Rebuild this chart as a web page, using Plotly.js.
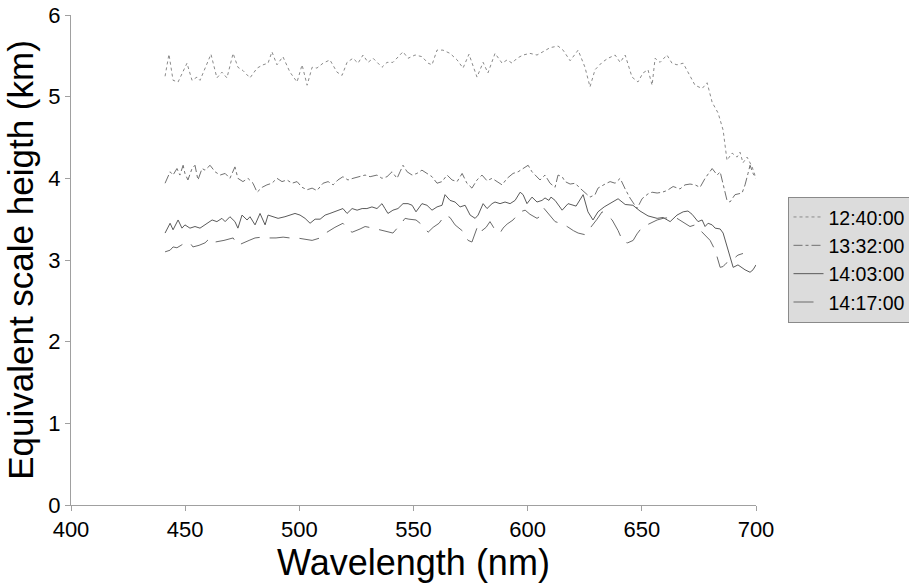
<!DOCTYPE html>
<html>
<head>
<meta charset="utf-8">
<script src="https://cdn.plot.ly/plotly-3.0.1.min.js"></script>
<style>html,body{margin:0;padding:0;background:#fff;}#chart{width:909px;height:586px;}</style>
</head>
<body>
<div id="chart"></div>
<script>
// Series names (legend labels)
const seriesNames = ["12:40:00", "13:32:00", "14:03:00", "14:17:00"];

// 12:40:00
const wl1240 = [441.2,442.9,444.7,446.9,450.8,453.0,455.2,456.5,461.3,463.9,466.1,468.3,471.0,473.1,475.3,478.4,481.5,484.1,486.3,488.0,490.2,492.8,495.9,499.0,501.2,503.4,505.6,507.7,510.4,513.4,516.5,518.7,520.9,523.5,525.7,527.9,530.1,532.3,536.2,538.4,541.0,542.8,545.4,547.6,550.7,553.7,556.4,558.1,560.3,562.9,566.0,569.1,571.7,574.3,577.8,580.5,582.6,585.7,588.8,591.0,593.2,595.3,598.0,601.0,604.1,606.7,609.8,613.3,615.5,618.6,622.1,625.1,627.3,629.5,632.6,635.2,638.3,640.5,642.7,645.7,648.3,650.5,652.7,654.5,655.8,658.0,661.0,663.2,665.4,668.1,670.2,673.3,676.4,678.6,680.8,683.4,685.6,687.3,689.5,691.7,693.0,694.3,696.1,698.3,700.0];
const h1240 = [5.25,5.52,5.20,5.18,5.41,5.20,5.24,5.20,5.52,5.23,5.30,5.23,5.53,5.36,5.32,5.23,5.35,5.39,5.41,5.55,5.39,5.49,5.30,5.18,5.39,5.14,5.36,5.35,5.41,5.45,5.30,5.26,5.42,5.47,5.41,5.51,5.42,5.47,5.36,5.42,5.42,5.47,5.55,5.47,5.51,5.49,5.41,5.39,5.57,5.57,5.53,5.45,5.35,5.52,5.24,5.42,5.29,5.53,5.41,5.45,5.41,5.47,5.51,5.53,5.51,5.55,5.60,5.62,5.57,5.44,5.57,5.36,5.12,5.33,5.42,5.47,5.51,5.42,5.51,5.24,5.18,5.29,5.33,5.14,5.47,5.42,5.51,5.41,5.39,5.41,5.30,5.14,5.10,5.17,4.93,4.80,4.59,4.22,4.31,4.26,4.32,4.19,4.26,4.14,4.00];

// 13:32:00
const wl1332 = [441.2,443.4,444.7,446.4,447.7,449.1,449.9,451.2,453.0,454.3,455.6,457.4,458.7,460.9,463.1,465.3,467.5,469.6,471.8,473.1,475.3,477.5,479.7,481.5,483.7,485.8,488.0,490.2,492.4,494.6,496.8,499.0,501.2,503.4,505.6,507.7,510.4,512.6,514.8,516.9,519.1,521.3,523.5,526.6,528.8,531.0,534.0,536.2,538.4,540.6,542.8,544.1,545.4,547.2,549.4,551.5,553.7,555.9,558.1,560.3,562.5,564.7,566.9,569.1,571.3,573.4,575.6,577.8,580.0,582.2,584.4,586.6,588.8,591.0,593.6,595.8,598.0,600.2,601.9,603.2,605.4,607.6,609.8,612.0,613.3,615.1,616.4,618.6,620.8,622.9,625.1,627.3,629.5,630.8,633.9,636.1,638.3,640.5,642.7,644.8,647.9,650.1,652.7,654.5,656.7,658.9,661.0,663.7,666.7,668.9,671.1,673.3,675.5,677.7,680.8,683.0,684.3,685.6,687.3,688.6,690.8,693.9,695.2,696.5,697.4,698.7,700.0];
const h1332 = [3.94,4.08,4.04,4.12,4.04,4.16,4.06,3.98,4.12,4.16,3.98,4.12,4.10,4.16,4.08,4.04,4.06,4.00,4.14,4.00,3.96,4.00,3.94,3.83,3.89,3.92,3.94,4.00,3.96,3.98,3.94,3.96,3.89,3.86,3.88,3.85,3.94,3.96,3.92,3.98,4.02,3.98,4.00,4.02,4.04,4.02,4.04,4.00,4.02,4.08,4.00,4.08,4.16,4.08,4.04,4.06,4.10,4.06,4.02,3.94,3.96,4.04,3.98,3.96,4.06,3.94,3.88,3.98,4.04,3.97,4.00,3.96,3.92,4.00,4.06,4.08,4.12,4.16,4.08,4.04,3.98,4.04,3.94,3.89,4.04,4.02,3.96,3.93,3.94,3.88,3.82,3.77,3.80,3.88,3.93,3.96,3.94,4.00,3.87,3.76,3.63,3.75,3.81,3.83,3.82,3.83,3.85,3.90,3.87,3.92,3.93,3.92,3.89,4.00,4.12,4.04,4.08,3.94,3.73,3.71,3.80,3.82,3.92,4.06,4.16,4.06,4.00];

// 14:03:00
const wl1403 = [441.2,443.4,444.7,446.9,448.6,449.9,452.1,454.3,456.5,458.7,461.8,463.9,466.1,467.5,469.6,471.8,473.1,474.9,477.1,478.4,480.6,482.8,485.0,486.3,488.5,490.7,493.7,495.9,498.1,500.3,502.5,504.7,506.9,509.1,511.3,513.4,515.6,517.8,519.1,520.9,523.1,525.3,527.5,529.6,531.8,534.0,536.2,537.5,538.8,541.0,543.2,545.4,547.6,549.4,551.1,553.7,555.9,558.1,560.3,562.5,563.8,566.0,568.2,570.4,572.6,574.8,577.0,578.3,580.5,582.2,584.4,585.7,587.9,590.1,592.3,594.5,596.7,598.0,599.7,601.9,604.1,606.3,607.6,609.3,610.2,612.0,615.1,617.7,621.2,624.3,626.4,628.6,630.8,633.5,636.5,639.6,642.7,646.1,649.2,652.7,656.7,659.3,662.4,665.4,668.1,670.2,672.0,673.3,674.6,676.4,677.7,679.0,680.8,682.1,684.3,685.6,686.5,687.8,690.0,692.1,693.9,695.2,697.4,698.7,700.0];
const h1403 = [3.33,3.45,3.37,3.49,3.39,3.43,3.39,3.41,3.39,3.43,3.49,3.47,3.51,3.47,3.53,3.47,3.39,3.55,3.49,3.53,3.43,3.57,3.43,3.55,3.53,3.51,3.53,3.55,3.57,3.55,3.51,3.45,3.50,3.50,3.55,3.57,3.59,3.61,3.63,3.57,3.63,3.61,3.63,3.63,3.65,3.63,3.69,3.63,3.57,3.61,3.63,3.69,3.69,3.67,3.59,3.69,3.67,3.61,3.65,3.67,3.80,3.73,3.71,3.65,3.67,3.55,3.51,3.55,3.69,3.63,3.69,3.71,3.69,3.71,3.69,3.73,3.83,3.80,3.69,3.77,3.71,3.73,3.76,3.73,3.77,3.73,3.61,3.69,3.66,3.80,3.59,3.49,3.59,3.65,3.70,3.75,3.68,3.67,3.60,3.54,3.51,3.52,3.47,3.55,3.59,3.60,3.56,3.51,3.47,3.49,3.41,3.45,3.43,3.39,3.38,3.33,3.24,3.10,2.91,2.94,2.90,2.88,2.85,2.88,2.94,2.84,2.79];

// 14:17:00
const wl1417 = [441.2,443.4,444.7,446.4,448.2,449.9,452.1,453.4,456.1,458.7,460.9,463.1,467.0,471.0,473.1,475.3,478.0,480.6,483.7,486.3,489.8,492.9,495.9,499.0,502.5,505.6,509.1,512.1,515.6,519.1,521.3,523.1,526.6,528.8,532.3,535.3,537.5,541.0,544.1,546.3,548.0,551.1,554.2,556.4,558.6,561.2,563.8,566.0,568.2,571.7,573.9,575.6,578.3,580.0,581.8,583.5,585.7,587.9,589.2,591.0,593.6,596.7,598.9,601.0,604.1,606.3,607.2,609.4,612.0,614.2,617.3,620.0,622.1,625.1,627.5,630.4,632.6,634.8,637.0,639.6,641.8,643.8,646.2,647.9,650.1,653.6,656.7,659.3,662.4,665.4,668.5,671.1,673.3,675.5,677.7,679.9,682.1,684.3,685.6,686.9,689.5,692.1,694.3,697.4,700.0];
const h1417 = [3.10,3.12,3.16,3.15,3.18,3.21,3.21,3.16,3.18,3.21,3.27,3.22,3.24,3.27,3.18,3.21,3.24,3.27,3.28,3.27,3.27,3.28,3.27,3.27,3.25,3.24,3.27,3.34,3.40,3.45,3.37,3.34,3.38,3.41,3.39,3.37,3.35,3.33,3.43,3.51,3.50,3.49,3.42,3.34,3.40,3.45,3.55,3.52,3.43,3.35,3.24,3.22,3.43,3.36,3.40,3.47,3.37,3.33,3.39,3.44,3.49,3.59,3.61,3.56,3.51,3.55,3.63,3.55,3.47,3.45,3.41,3.36,3.33,3.31,3.39,3.50,3.59,3.55,3.49,3.36,3.22,3.21,3.24,3.32,3.40,3.45,3.49,3.51,3.52,3.51,3.45,3.41,3.43,3.37,3.31,3.24,3.12,2.91,2.92,2.96,3.00,3.06,3.08];

function pair(x, y) { const n = Math.min(x.length, y.length); return [x.slice(0, n), y.slice(0, n)]; }

const styles = [
  {color: "#8a8a8a", dash: "dot", width: 1},
  {color: "#707070", dash: "dashdot", width: 1},
  {color: "#5a5a5a", dash: "solid", width: 1},
  {color: "#6a6a6a", dash: "20px,10px", width: 1}
];
const xs = [wl1240, wl1332, wl1403, wl1417];
const ys = [h1240, h1332, h1403, h1417];

const traces = seriesNames.map((name, i) => {
  const [x, y] = pair(xs[i], ys[i]);
  return {x: x, y: y, name: name, type: "scatter", mode: "lines", line: styles[i]};
});

const layout = {
  width: 909, height: 586,
  margin: {l: 71, r: 153, t: 15, b: 81, autoexpand: false},
  paper_bgcolor: "#ffffff", plot_bgcolor: "#ffffff",
  font: {family: "Liberation Sans, Arial, sans-serif", color: "#000"},
  showlegend: true,
  legend: {
    x: 1.046, y: 0.629, xanchor: "left", yanchor: "top",
    bgcolor: "#dcdcdc", bordercolor: "#8a8a8a", borderwidth: 1,
    font: {size: 19.5, color: "#000"}, tracegroupgap: 0
  },
  xaxis: {
    range: [400, 700], dtick: 50, tick0: 400,
    showgrid: false, zeroline: false,
    showline: true, linecolor: "#a0a0a0", linewidth: 1,
    ticks: "outside", ticklen: 5, tickcolor: "#a0a0a0",
    tickfont: {size: 22},
    title: {text: "Wavelength (nm)", font: {size: 36}, standoff: 7}
  },
  yaxis: {
    range: [0, 6], dtick: 1, tick0: 0,
    showgrid: false, zeroline: false,
    showline: true, linecolor: "#a0a0a0", linewidth: 1,
    ticks: "outside", ticklen: 5, tickcolor: "#a0a0a0",
    tickfont: {size: 22},
    title: {text: "Equivalent scale heigth (km)", font: {size: 35}, standoff: 4}
  }
};

Plotly.newPlot("chart", traces, layout, {displayModeBar: false, staticPlot: true});
</script>
</body>
</html>
